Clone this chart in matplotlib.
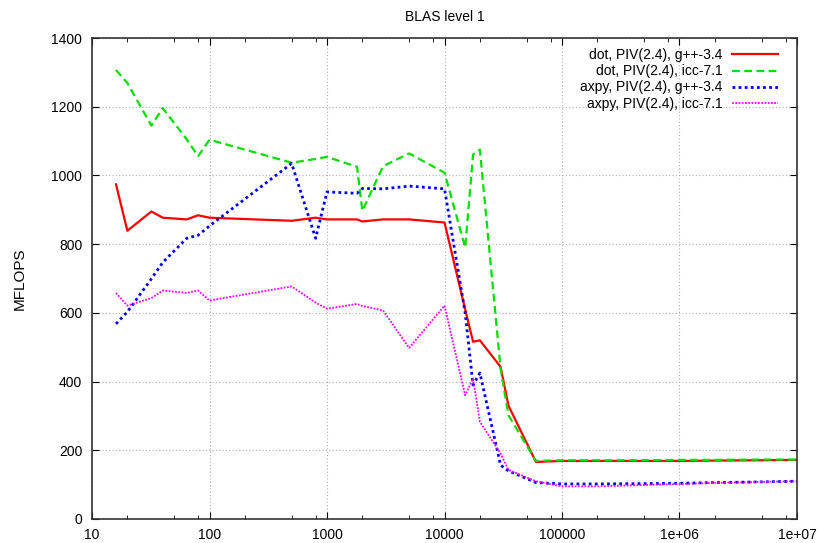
import matplotlib
matplotlib.use("Agg")
import matplotlib.pyplot as plt
from matplotlib.ticker import LogLocator, NullFormatter

plt.rcParams['font.family'] = ['Liberation Sans', 'DejaVu Sans']

# vector sizes
n = [16, 20, 32, 40, 64, 80, 100, 500, 800, 1000, 1800, 2000, 3000, 5000,
     10000, 15000, 17500, 20000, 30000, 35000, 60000, 100000, 200000,
     500000, 1000000, 2000000, 5000000, 10000000]

dot_gcc = [974, 839, 895, 877, 872, 884, 877, 868, 877, 872, 872, 866, 872, 872,
           863, 610, 516, 520, 443, 330, 166, 169, 169, 169, 169, 170, 171, 172]
dot_icc = [1307, 1269, 1145, 1196, 1105, 1056, 1104, 1037, 1048, 1054, 1025, 897, 1027, 1064,
           1008, 790, 1061, 1075, 438, 302, 169, 171, 171, 171, 172, 172, 173, 173]
axpy_gcc = [568, 603, 699, 747, 817, 826, 853, 1035, 817, 952, 948, 962, 961, 969,
            961, 600, 390, 425, 157, 140, 106, 102, 102, 103, 104, 106, 108, 110]
axpy_icc = [658, 621, 643, 665, 658, 665, 636, 677, 630, 612, 626, 620, 607, 498,
            621, 360, 409, 283, 191, 143, 110, 95, 95, 99, 102, 105, 108, 110]

xticks = [10, 100, 1000, 10000, 100000, 1000000, 10000000]
xlabels = ['10', '100', '1000', '10000', '100000', '1e+06', '1e+07']

fig = plt.figure(figsize=(8.23, 5.43), dpi=100)
ax = fig.add_axes([0.1118, 0.0442, 0.8566, 0.8858])

ax.plot(n, dot_gcc, color='#ff0000', lw=1.6, label='dot, PIV(2.4), g++-3.4')
ax.plot(n, dot_icc, color='#00e000', lw=1.6, linestyle=(0, (3.5, 2)), label='dot, PIV(2.4), icc-7.1')
ax.plot(n, axpy_gcc, color='#0000ff', lw=2.0, linestyle=(0, (1, 1.2)), label='axpy, PIV(2.4), g++-3.4')
ax.plot(n, axpy_icc, color='#ff00ff', lw=1.3, linestyle=(0, (1, 0.8)), label='axpy, PIV(2.4), icc-7.1')

ax.set_xscale('log')
ax.set_xlim(10, 10000000)
ax.set_ylim(0, 1400)
ax.set_xticks(xticks)
ax.set_xticklabels(xlabels)
ax.xaxis.set_minor_locator(LogLocator(base=10, subs=[2, 5, 8]))
ax.xaxis.set_minor_formatter(NullFormatter())
ax.set_yticks(range(0, 1401, 200))
ax.tick_params(which='both', direction='in', top=True, right=True, labelsize=10)
ax.tick_params(axis='x', pad=6.5)
ax.tick_params(axis='y', pad=7)
ax.tick_params(which='major', length=5)
ax.tick_params(which='minor', length=3)
ax.grid(True, which='major', color='#b0b0b0', lw=0.8, linestyle=(0, (1, 2)))
for s in ax.spines.values():
    s.set_linewidth(1.2)
    s.set_color('#333333')

ax.set_title('BLAS level 1', fontsize=10, pad=12)
ax.set_ylabel('MFLOPS', fontsize=11, labelpad=18)

ax.legend(loc='upper right', bbox_to_anchor=(0.983, 0.993), frameon=False,
          markerfirst=False, fontsize=10, handlelength=3.3, handletextpad=0.7,
          labelspacing=0.15, borderaxespad=0.2, borderpad=0.3)

fig.savefig('out.png', dpi=100)
